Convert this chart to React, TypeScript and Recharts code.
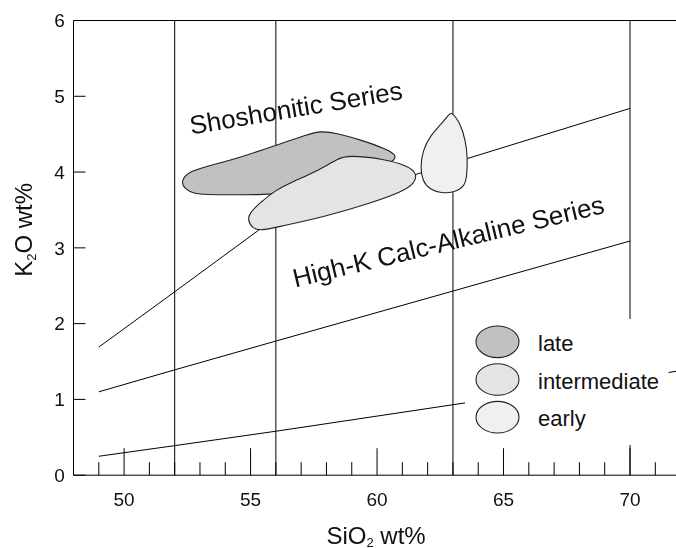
import React from 'react';
import { ScatterChart, Scatter, XAxis, YAxis, Legend } from 'recharts';

const FONT = '"Liberation Sans", Arial, Helvetica, sans-serif';
const INK = '#111';

// axis ticks
const SIO2_TICKS = [49, 50, 51, 52, 53, 54, 55, 56, 57, 58, 59, 60, 61, 62, 63, 64, 65, 66, 67, 68, 69, 70, 71];
const SIO2_LABELED = [50, 55, 60, 65, 70];
const K2O_TICKS = [0, 1, 2, 3, 4, 5, 6];

// basalt | basaltic andesite | andesite | dacite | rhyolite
const SIO2_DIVIDES = [52, 56, 63, 70];

// series boundaries (SiO2, K2O)
const SHOSHONITE_BOUNDARY = [
    { x: 49, y: 1.69 }, { x: 52, y: 2.42 }, { x: 56, y: 3.4 }, { x: 63, y: 4.12 }, { x: 70, y: 4.84 },
];
const HIGH_K_BOUNDARY = [
    { x: 49, y: 1.1 }, { x: 52, y: 1.39 }, { x: 56, y: 1.77 }, { x: 63, y: 2.43 }, { x: 70, y: 3.09 },
];
const CALC_ALKALINE_BOUNDARY = [
    { x: 49, y: 0.25 }, { x: 52, y: 0.39 }, { x: 56, y: 0.58 }, { x: 63, y: 0.93 }, { x: 72, y: 1.38 },
];

// outlines of the sample fields
const LATE_FIELD = [
    { x: 52.25, y: 3.88 }, { x: 52.52, y: 4.0 }, { x: 53.21, y: 4.07 }, { x: 54.66, y: 4.2 },
    { x: 55.98, y: 4.35 }, { x: 57.29, y: 4.5 }, { x: 57.75, y: 4.54 }, { x: 58.35, y: 4.52 },
    { x: 59.4, y: 4.42 }, { x: 60.32, y: 4.31 }, { x: 60.76, y: 4.23 }, { x: 60.68, y: 4.15 },
    { x: 60.4, y: 4.12 }, { x: 59, y: 3.95 }, { x: 57, y: 3.75 }, { x: 55.98, y: 3.7 },
    { x: 53.34, y: 3.7 }, { x: 52.78, y: 3.71 }, { x: 52.38, y: 3.78 },
];
const INTERMEDIATE_FIELD = [
    { x: 54.88, y: 3.37 }, { x: 55.08, y: 3.25 }, { x: 55.45, y: 3.23 }, { x: 55.98, y: 3.27 },
    { x: 57.95, y: 3.41 }, { x: 59.93, y: 3.61 }, { x: 60.98, y: 3.74 }, { x: 61.48, y: 3.85 },
    { x: 61.58, y: 3.97 }, { x: 61.28, y: 4.08 }, { x: 60.19, y: 4.18 }, { x: 58.87, y: 4.22 },
    { x: 58.45, y: 4.18 }, { x: 57.69, y: 4.02 }, { x: 56.64, y: 3.87 }, { x: 55.98, y: 3.76 },
    { x: 55.32, y: 3.58 }, { x: 54.97, y: 3.46 },
];
const EARLY_FIELD = [
    { x: 62.96, y: 4.79 }, { x: 63.3, y: 4.64 }, { x: 63.5, y: 4.41 }, { x: 63.58, y: 4.19 },
    { x: 63.55, y: 3.93 }, { x: 63.44, y: 3.8 }, { x: 63.02, y: 3.73 }, { x: 62.56, y: 3.72 },
    { x: 62.08, y: 3.77 }, { x: 61.8, y: 3.88 }, { x: 61.71, y: 4.06 }, { x: 61.81, y: 4.29 },
    { x: 62.1, y: 4.48 }, { x: 62.56, y: 4.64 }, { x: 62.86, y: 4.77 },
];

const FIELD_NAMES = ['late', 'intermediate', 'early'];
const FIELD_COLORS = ['#c0c1c3', '#e3e4e5', '#eff0ef'];
const FIELD_OUTLINES = [LATE_FIELD, INTERMEDIATE_FIELD, EARLY_FIELD];

const SERIES_NAMES = ['Shoshonitic Series', 'High-K Calc-Alkaline Series'];
const SERIES_LABEL_AT = [{ x: 56.85, y: 4.73 }, { x: 62.9, y: 2.97 }];

const TM = 10; // tick margin used to find the axis line back inside custom ticks

const Hidden = () => <g />;

function BottomTick(props: any) {
    const { x, y, payload } = props;
    const axisY = y - TM;
    const major = SIO2_LABELED.includes(payload.value);
    return (
        <g>
            <line x1={x} x2={x} y1={axisY} y2={axisY - (major ? 27 : 13)} stroke="#000" />
            {major && (
                <text x={x} y={axisY + 31} textAnchor="middle" fontSize={19} fontFamily={FONT} fill={INK}>
                    {payload.value}
                </text>
            )}
        </g>
    );
}

function TopTick(props: any) {
    const { x, y, payload } = props;
    const axisY = y + TM;
    const major = SIO2_LABELED.includes(payload.value);
    return <line x1={x} x2={x} y1={axisY} y2={axisY + (major ? 26 : 13)} stroke="#000" />;
}

function LeftTick(props: any) {
    const { x, y, payload } = props;
    const axisX = x + TM;
    return (
        <g>
            <line x1={axisX} x2={axisX + 12} y1={y} y2={y} stroke="#000" />
            <text x={axisX - 8.7} y={y + 6.8} textAnchor="end" fontSize={19} fontFamily={FONT} fill={INK}>
                {payload.value}
            </text>
        </g>
    );
}

function RightTick(props: any) {
    const { x, y } = props;
    const axisX = x - TM;
    return <line x1={axisX} x2={axisX - 12} y1={y} y2={y} stroke="#000" />;
}

function SeriesLabel(props: any) {
    const { cx, cy, payload } = props;
    const tilt = payload.text === SERIES_NAMES[0] ? -9.5 : -13.5;
    return (
        <text x={cx} y={cy} transform={`rotate(${tilt} ${cx} ${cy})`} textAnchor="middle"
              fontSize={26} fontFamily={FONT} fill={INK}>
            {payload.text}
        </text>
    );
}

const xTitle = (p: any) => {
    const vb = p.viewBox;
    return (
        <text x={vb.x + vb.width / 2 - 1} y={vb.y + 68.3} textAnchor="middle" fontSize={24} fontFamily={FONT} fill={INK}>
            SiO<tspan fontSize={13} dy={3}>2</tspan><tspan dy={-3}> wt%</tspan>
        </text>
    );
};

const yTitle = (p: any) => {
    const vb = p.viewBox;
    const cy = vb.y + vb.height / 2 - 18;
    return (
        <text transform={`translate(23.7 ${cy}) rotate(-90)`} textAnchor="middle" fontSize={24} fontFamily={FONT} fill={INK}>
            K<tspan fontSize={13} dy={4}>2</tspan><tspan dy={-4}>O wt%</tspan>
        </text>
    );
};

function FieldKey() {
    return (
        <svg width={203.5} height={126} style={{ display: 'block' }}>
            <rect width={203.5} height={126} fill="#fff" />
            {FIELD_NAMES.map((name, i) => (
                <g key={name}>
                    <ellipse cx={32.5} cy={22.8 + i * 37.7} rx={21.5} ry={15.8}
                             fill={FIELD_COLORS[i]} stroke="#222" strokeWidth={1.1} />
                    <text x={73} y={31.8 + i * 37.7} fontSize={22} fontFamily={FONT} fill={INK}>{name}</text>
                </g>
            ))}
        </svg>
    );
}

export default function App() {
    const dividers = SIO2_DIVIDES.map(x => [{ x, y: 0 }, { x, y: 6 }]);
    const labels = SERIES_NAMES.map((text, i) => ({ ...SERIES_LABEL_AT[i], text }));
    const boundaries = [SHOSHONITE_BOUNDARY, HIGH_K_BOUNDARY, CALC_ALKALINE_BOUNDARY];

    return (
        <div style={{ position: 'fixed', left: 8, top: 8, width: 668, height: 540, overflow: 'hidden' }}>
            <ScatterChart width={680} height={540} margin={{ top: 0, right: 0, bottom: 0, left: 0 }} style={{ fontFamily: FONT }}>
                <XAxis xAxisId="b" type="number" dataKey="x" domain={[48, 72]} ticks={SIO2_TICKS} interval={0}
                       height={72.8} axisLine={{ stroke: '#000' }} tickLine={false} tickSize={0} tickMargin={TM}
                       tick={<BottomTick />} label={xTitle} />
                <XAxis xAxisId="t" orientation="top" type="number" dataKey="x" domain={[48, 72]} ticks={SIO2_TICKS}
                       interval={0} height={12.5} axisLine={{ stroke: '#000' }} tickLine={false} tickSize={0}
                       tickMargin={TM} tick={<TopTick />} />
                <YAxis yAxisId="l" type="number" dataKey="y" domain={[0, 6]} ticks={K2O_TICKS} interval={0}
                       width={65.5} axisLine={{ stroke: '#000' }} tickLine={false} tickSize={0} tickMargin={TM}
                       tick={<LeftTick />} label={yTitle} />
                <YAxis yAxisId="r" orientation="right" type="number" dataKey="y" domain={[0, 6]} ticks={K2O_TICKS}
                       interval={0} width={7.4} axisLine={false} tickLine={false} tickSize={0} tickMargin={TM}
                       tick={<RightTick />} />

                {dividers.map((d, i) => (
                    <Scatter key={'d' + i} xAxisId="b" yAxisId="l" data={d} legendType="none" shape={Hidden}
                             line={{ stroke: '#000', strokeWidth: 1 }} lineJointType="linear" isAnimationActive={false} />
                ))}
                {boundaries.map((d, i) => (
                    <Scatter key={'s' + i} xAxisId="b" yAxisId="l" data={d} legendType="none" shape={Hidden}
                             line={{ stroke: '#000', strokeWidth: 1 }} lineJointType="linear" isAnimationActive={false} />
                ))}
                {FIELD_OUTLINES.map((d, i) => (
                    <Scatter key={FIELD_NAMES[i]} name={FIELD_NAMES[i]} xAxisId="b" yAxisId="l" data={d}
                             fill={FIELD_COLORS[i]} shape={Hidden}
                             line={{ fill: FIELD_COLORS[i], stroke: '#222', strokeWidth: 1.1 }}
                             lineJointType="basisClosed" isAnimationActive={false} />
                ))}
                <Scatter xAxisId="b" yAxisId="l" data={labels} legendType="none" shape={<SeriesLabel />}
                         isAnimationActive={false} />

                <Legend layout="vertical" align="center" verticalAlign="middle"
                        wrapperStyle={{ left: 457, top: 311, width: 203.5, height: 126 }}
                        content={() => <FieldKey />} />
            </ScatterChart>
        </div>
    );
}
